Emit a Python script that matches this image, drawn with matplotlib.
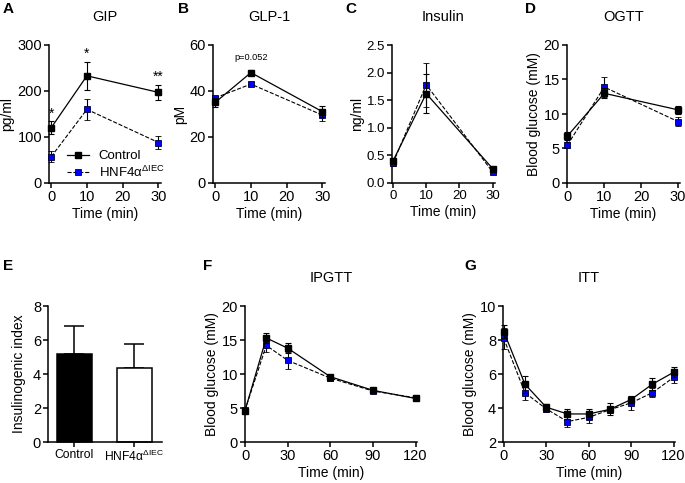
import matplotlib
matplotlib.use("Agg")
import matplotlib.pyplot as plt
from matplotlib.lines import Line2D
import numpy as np

plt.rcParams['font.family'] = ['Liberation Sans', 'DejaVu Sans']
plt.rcParams['mathtext.fontset'] = 'custom'
plt.rcParams['mathtext.rm'] = 'Liberation Sans'
plt.rcParams['mathtext.it'] = 'Liberation Sans'

# ---- data ----
t_short = [0, 10, 30]
gip_ctrl = [120, 233, 197]
gip_ctrl_err = [14, 30, 16]
gip_ko = [57, 160, 88]
gip_ko_err = [12, 22, 15]

glp_ctrl = [35, 48, 31]
glp_ctrl_err = [2, 1, 2.5]
glp_ko = [37, 43, 29.5]
glp_ko_err = [1, 1, 2.5]

ins_ctrl = [0.40, 1.62, 0.26]
ins_ctrl_err = [0.05, 0.36, 0.03]
ins_ko = [0.36, 1.78, 0.20]
ins_ko_err = [0.05, 0.40, 0.03]

ogtt_ctrl = [6.8, 13.0, 10.6]
ogtt_ctrl_err = [0.6, 0.7, 0.6]
ogtt_ko = [5.5, 13.9, 8.9]
ogtt_ko_err = [0.5, 1.5, 0.6]

ii_groups = ['Control', 'HNF4α$^{ΔIEC}$']
ii_vals = [5.2, 4.35]
ii_err = [1.6, 1.4]

t_ipgtt = [0, 15, 30, 60, 90, 120]
ipgtt_ctrl = [4.6, 15.3, 13.8, 9.6, 7.6, 6.4]
ipgtt_ctrl_err = [0.2, 0.7, 0.7, 0.3, 0.2, 0.2]
ipgtt_ko = [4.7, 14.2, 12.0, 9.4, 7.5, 6.5]
ipgtt_ko_err = [0.2, 1.0, 1.2, 0.4, 0.2, 0.2]

t_itt = [0, 15, 30, 45, 60, 75, 90, 105, 120]
itt_ctrl = [8.5, 5.4, 4.05, 3.65, 3.65, 3.92, 4.5, 5.4, 6.1]
itt_ctrl_err = [0.4, 0.5, 0.2, 0.3, 0.3, 0.35, 0.2, 0.35, 0.3]
itt_ko = [8.1, 4.9, 3.95, 3.2, 3.45, 3.9, 4.3, 4.9, 5.8]
itt_ko_err = [0.6, 0.45, 0.2, 0.3, 0.35, 0.2, 0.4, 0.25, 0.35]

W, H = 685, 483
fig = plt.figure(figsize=(6.85, 4.83), dpi=100)

def ax_px(l, r, t, b):
    return fig.add_axes([l / W, 1 - b / H, (r - l) / W, (b - t) / H])

TFS = 10.5    # tick labels
LFS = 10      # axis labels
TITLE = 10.5
LW = 1.1

def style(ax, tfs=TFS):
    for s in ['top', 'right']:
        ax.spines[s].set_visible(False)
    for s in ['left', 'bottom']:
        ax.spines[s].set_linewidth(LW)
    ax.tick_params(width=LW, length=3.5, labelsize=tfs, pad=1.5)

KO_STYLE = dict(color='black', ls='--', lw=0.8, marker='s', ms=4.5,
                mfc='#0000ff', mec='#000033', mew=0.6)
CT_STYLE = dict(color='black', ls='-', lw=0.9, marker='s', ms=4.5,
                mfc='black', mec='black')

def lines(ax, x, yc, ec, yk, ek):
    ax.errorbar(x, yk, yerr=ek, capsize=2.3, elinewidth=0.8, capthick=0.8,
                zorder=3, **KO_STYLE)
    ax.errorbar(x, yc, yerr=ec, capsize=2.3, elinewidth=0.8, capthick=0.8,
                zorder=4, **CT_STYLE)

def letter(x, y, s):
    fig.text(x / W, 1 - y / H, s, fontsize=11, fontweight='bold', va='center', ha='left')

def labels(ax, title, ylabel, xlabel='Time (min)'):
    ax.set_ylabel(ylabel, fontsize=LFS, labelpad=2)
    if xlabel:
        ax.set_xlabel(xlabel, fontsize=LFS, labelpad=2)
    ax.set_title(title, fontsize=TITLE, pad=17)

# A
axA = ax_px(49, 161, 45, 183)
lines(axA, t_short, gip_ctrl, gip_ctrl_err, gip_ko, gip_ko_err)
style(axA)
axA.set_xlim(-0.6, 30.7); axA.set_ylim(0, 300)
axA.set_xticks([0, 10, 20, 30]); axA.set_yticks([0, 100, 200, 300])
labels(axA, 'GIP', 'pg/ml')
for xx, yy, s in [(0, gip_ctrl[0] + gip_ctrl_err[0] + 2, '*'),
                  (10, gip_ctrl[1] + gip_ctrl_err[1] + 2, '*'),
                  (30, gip_ctrl[2] + gip_ctrl_err[2] + 2, '**')]:
    axA.text(xx, yy, s, ha='center', va='bottom', fontsize=10)
handles = [Line2D([], [], **CT_STYLE), Line2D([], [], **KO_STYLE)]
axA.legend(handles, ['Control', 'HNF4α$^{ΔIEC}$'], loc='lower left',
           bbox_to_anchor=((67 - 49) / 112, (183 - 180) / 138),
           frameon=False, fontsize=9.5, handlelength=1.7, handletextpad=0.7,
           labelspacing=0.2, borderaxespad=0, borderpad=0)

# B
axB = ax_px(213, 325, 45, 183)
lines(axB, t_short, glp_ctrl, glp_ctrl_err, glp_ko, glp_ko_err)
style(axB)
axB.set_xlim(-0.6, 30.7); axB.set_ylim(0, 60)
axB.set_xticks([0, 10, 20, 30]); axB.set_yticks([0, 20, 40, 60])
labels(axB, 'GLP-1', 'pM')
axB.text(10, 52.5, 'p=0.052', ha='center', va='bottom', fontsize=6.6)

# C
axC = ax_px(392, 495, 45, 183)
lines(axC, t_short, ins_ctrl, ins_ctrl_err, ins_ko, ins_ko_err)
style(axC, 9.5)
axC.set_xlim(-0.3, 30.7); axC.set_ylim(0, 2.5)
axC.set_xticks([0, 10, 20, 30]); axC.set_yticks([0, 0.5, 1.0, 1.5, 2.0, 2.5])
axC.set_yticklabels(['0.0', '0.5', '1.0', '1.5', '2.0', '2.5'])
labels(axC, 'Insulin', 'ng/ml')

# D
axD = ax_px(567, 680, 45, 183)
lines(axD, t_short, ogtt_ctrl, ogtt_ctrl_err, ogtt_ko, ogtt_ko_err)
style(axD)
axD.set_xlim(-0.1, 30.5); axD.set_ylim(0, 20)
axD.set_xticks([0, 10, 20, 30]); axD.set_yticks([0, 5, 10, 15, 20])
labels(axD, 'OGTT', 'Blood glucose (mM)')

# E
axE = ax_px(48, 162, 306, 442)
xpos = np.arange(len(ii_groups))
axE.bar(xpos, ii_vals, width=0.58, color=['black', 'white'], edgecolor='black',
        linewidth=1.1, zorder=2)
axE.errorbar(xpos, ii_vals, yerr=[[0, 0], ii_err], fmt='none', ecolor='black',
             elinewidth=1.1, capsize=7, capthick=1.1, zorder=1)
style(axE)
axE.set_xlim(-0.44, 1.46); axE.set_ylim(0, 8)
axE.set_xticks(xpos); axE.set_xticklabels(ii_groups, fontsize=8.7)
axE.set_yticks([0, 2, 4, 6, 8])
axE.set_ylabel('Insulinogenic index', fontsize=LFS, labelpad=5)

# F
axF = ax_px(245, 417, 306, 442)
lines(axF, t_ipgtt, ipgtt_ctrl, ipgtt_ctrl_err, ipgtt_ko, ipgtt_ko_err)
style(axF)
axF.set_xlim(0, 121); axF.set_ylim(0, 20)
axF.set_xticks([0, 30, 60, 90, 120]); axF.set_yticks([0, 5, 10, 15, 20])
labels(axF, 'IPGTT', 'Blood glucose (mM)')

# G
axG = ax_px(503, 675, 306, 442)
lines(axG, t_itt, itt_ctrl, itt_ctrl_err, itt_ko, itt_ko_err)
style(axG)
axG.set_xlim(-0.5, 121); axG.set_ylim(2, 10)
axG.set_xticks([0, 30, 60, 90, 120]); axG.set_yticks([2, 4, 6, 8, 10])
labels(axG, 'ITT', 'Blood glucose (mM)')

for ax in [axA, axB, axC, axD, axE, axF, axG]:
    for art in ax.get_children():
        try:
            art.set_clip_on(False)
        except Exception:
            pass

letter(3, 9, 'A'); letter(178, 9, 'B'); letter(345, 9, 'C'); letter(525, 9, 'D')
letter(3, 266, 'E'); letter(203, 266, 'F'); letter(464, 266, 'G')

fig.savefig('out.png', dpi=100)
